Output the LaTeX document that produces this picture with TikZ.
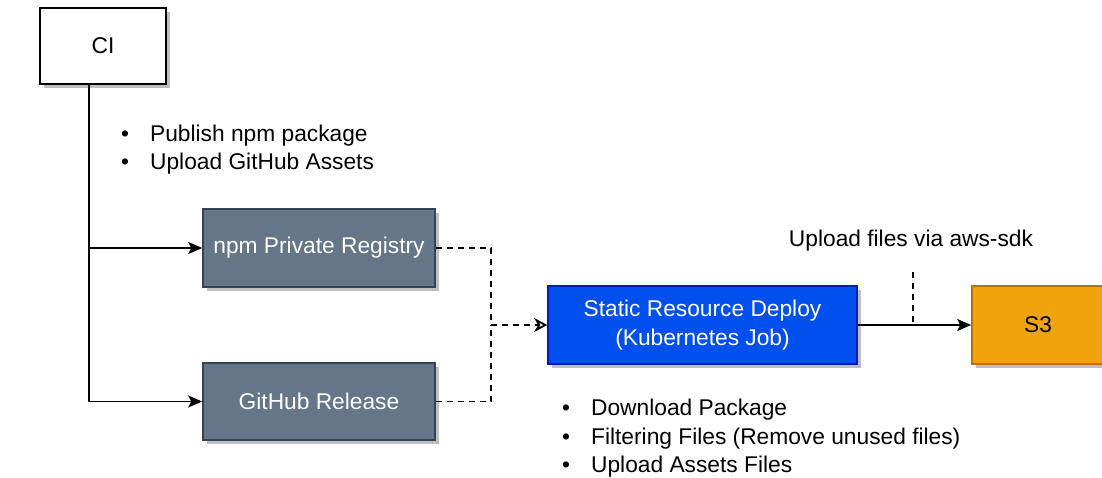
\documentclass[tikz,border=0pt]{standalone}
\usepackage{fontspec}
\setmainfont{Liberation Sans}
\usetikzlibrary{arrows.meta,shadows}
\definecolor{slate}{HTML}{647687}
\definecolor{slateb}{HTML}{314354}
\definecolor{kblue}{HTML}{0050EF}
\definecolor{kblueb}{HTML}{001DBC}
\definecolor{amber}{HTML}{F0A30A}
\definecolor{amberb}{HTML}{BD7000}
\tikzset{
  box/.style={draw, line width=1.6pt, inner sep=0pt, align=center,
    font=\fontsize{22.75pt}{28.5pt}\selectfont,
    drop shadow={shadow xshift=4pt, shadow yshift=-4pt, fill=black!25, opacity=1}},
  conn/.style={line width=1.8pt},
  solidarrow/.style={conn, -{Stealth[length=14pt,width=12pt,inset=3pt]}},
  dashline/.style={conn, dash pattern=on 6pt off 5pt},
  openarrow/.style={dashline, -{Stealth[open,length=13pt,width=14pt,inset=4pt]}},
  listtext/.style={inner sep=0pt, anchor=west, font=\fontsize{22.75pt}{28.5pt}\selectfont}
}
\begin{document}
\begin{tikzpicture}[x=1pt,y=-1pt]
\useasboundingbox (0,0) rectangle (1102,477);
\node[box, fill=white, minimum width=126pt, minimum height=76pt] (ci) at (103,46) {CI};
\node[box, fill=slate, draw=slateb, text=white, minimum width=232pt, minimum height=78pt] (npm) at (319,248) {npm Private Registry};
\node[box, fill=slate, draw=slateb, text=white, minimum width=232pt, minimum height=77pt] (gh) at (319,401.5) {GitHub Release};
\node[box, fill=kblue, draw=kblueb, text=white, minimum width=309pt, minimum height=78pt] (srd) at (702.5,325) {Static Resource Deploy\\(Kubernetes Job)};
\node[box, fill=amber, draw=amberb, minimum width=132pt, minimum height=78pt] (s3) at (1038,325) {S3};

\coordinate (trunk) at (89,0);
\coordinate (jn) at (491,325);
\coordinate (lbl) at (913,272);

\draw[solidarrow] (ci.south -| trunk) |- (gh.west);
\draw[solidarrow] (trunk |- npm.west) -- (npm.west);
\draw[dashline] (npm.east) -| (jn);
\draw[dashline] (gh.east) -| (jn);
\draw[openarrow] (jn) -- (srd.west);
\draw[solidarrow] (srd.east) -- (s3.west);
\draw[dashline] (lbl) -- (lbl |- srd.east);

\node[inner sep=0pt, font=\fontsize{22.75pt}{28.5pt}\selectfont] (uplabel) at (911,240.5) {Upload files via aws-sdk};

\node[listtext] (cilist) at (121,150) {\begin{tabular}{@{}l@{\hspace{21pt}}l@{}}\textbullet & Publish npm package\\ \textbullet & Upload GitHub Assets\end{tabular}};
\node[listtext] (srdlist) at (562,438.5) {\begin{tabular}{@{}l@{\hspace{21pt}}l@{}}\textbullet & Download Package\\ \textbullet & Filtering Files (Remove unused files)\\ \textbullet & Upload Assets Files\end{tabular}};
\end{tikzpicture}
\end{document}
